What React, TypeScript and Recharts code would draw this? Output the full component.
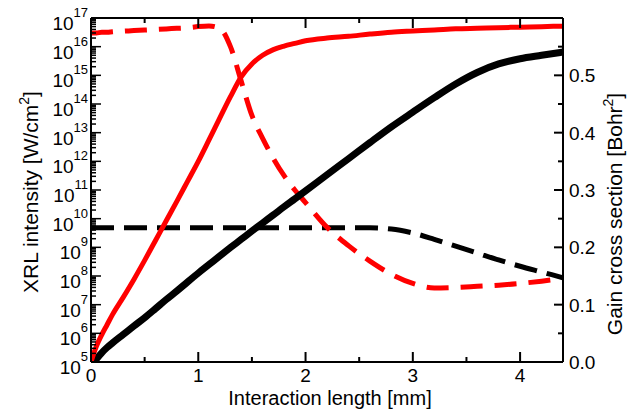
import React from 'react';
import { LineChart, Line, XAxis, YAxis, Customized } from 'recharts';

// Interaction length [mm]
const lengthMm = [0, 0.03, 0.05, 0.1, 0.15, 0.2, 0.3, 0.4, 0.5, 0.6, 0.7, 0.8, 0.9, 1.0, 1.1, 1.2, 1.3, 1.4, 1.5, 1.6, 1.7, 1.8, 1.9, 2.0, 2.2, 2.4, 2.6, 2.8, 3.0, 3.2, 3.4, 3.6, 3.8, 4.0, 4.2, 4.4];

// XRL intensity [W/cm^2] (left, log axis)
const redIntensity = [1.0e5, 2.2e5, 3.5e5, 8.9e5, 2.0e6, 4.5e6, 1.8e7, 7.6e7, 3.5e8, 1.7e9, 8.3e9, 4.0e10, 2.0e11, 1.0e12, 5.6e12, 3.2e13, 1.8e14, 8.9e14, 2.5e15, 5.0e15, 7.9e15, 1.05e16, 1.3e16, 1.6e16, 2.0e16, 2.3e16, 2.75e16, 3.2e16, 3.5e16, 3.8e16, 4.2e16, 4.4e16, 4.6e16, 4.8e16, 5.0e16, 5.2e16];
const blackIntensity = [null, 1.0e5, 1.26e5, 2.1e5, 3.2e5, 4.6e5, 9.1e5, 1.8e6, 3.5e6, 7.2e6, 1.5e7, 3.0e7, 6.2e7, 1.26e8, 2.5e8, 5.0e8, 9.8e8, 1.9e9, 3.7e9, 7.1e9, 1.35e10, 2.6e10, 4.9e10, 9.3e10, 3.4e11, 1.23e12, 4.5e12, 1.6e13, 5.2e13, 1.66e14, 5.0e14, 1.26e15, 2.5e15, 3.8e15, 5.0e15, 6.5e15];

// Gain cross section [Bohr^2] (right, linear axis)
const redGain = [0.574, 0.574, 0.574, 0.575, 0.575, 0.576, 0.577, 0.578, 0.579, 0.58, 0.581, 0.582, 0.583, 0.585, 0.586, 0.582, 0.55, 0.49, 0.43, 0.39, 0.355, 0.325, 0.3, 0.278, 0.235, 0.203, 0.176, 0.153, 0.137, 0.129, 0.13, 0.132, 0.134, 0.137, 0.141, 0.146];
const blackGain = [0.234, 0.234, 0.234, 0.234, 0.234, 0.234, 0.234, 0.234, 0.234, 0.234, 0.234, 0.234, 0.234, 0.234, 0.234, 0.234, 0.234, 0.234, 0.234, 0.234, 0.234, 0.234, 0.234, 0.234, 0.234, 0.234, 0.234, 0.232, 0.225, 0.214, 0.202, 0.19, 0.178, 0.167, 0.157, 0.147];

// Tick labels / positions
const xMajorTicks = [0, 1, 2, 3, 4];
const xMinorTicks = [0.5, 1.5, 2.5, 3.5];
const leftExponents = [5, 6, 7, 8, 9, 10, 11, 12, 13, 14, 15, 16, 17];
const logMinorMultipliers = [2, 3, 4, 5, 6, 7, 8, 9];
const rightMajorTicks = [0, 0.1, 0.2, 0.3, 0.4, 0.5];
const rightMinorTicks = [0.05, 0.15, 0.25, 0.35, 0.45, 0.55];

const data = lengthMm.map((x, i) => ({
  x,
  redI: redIntensity[i],
  blackI: blackIntensity[i],
  redG: redGain[i],
  blackG: blackGain[i],
}));

const xTicks = [...xMajorTicks, ...xMinorTicks].sort((a, b) => a - b);
const leftTicks: number[] = [];
leftExponents.forEach((e) => {
  leftTicks.push(Math.pow(10, e));
  if (e < 17) logMinorMultipliers.forEach((m) => leftTicks.push(m * Math.pow(10, e)));
});
const rightTicks = [...rightMajorTicks, ...rightMinorTicks].sort((a, b) => a - b);

const FONT = '"Liberation Sans", Arial, Helvetica, sans-serif';
const TICK_FS = 19;
const SUP_FS = 13;

const isMajorX = (v: number) => Math.abs(v - Math.round(v)) < 1e-6;

const BottomTick = (props: any) => {
  const { x, y, payload } = props;
  const v = payload.value;
  const major = isMajorX(v);
  return (
    <g>
      <line x1={x} x2={x} y1={y} y2={y - (major ? 10 : 5)} stroke="#000" strokeWidth={2} />
      {major && (
        <text x={x} y={y + 20} textAnchor="middle" fontSize={TICK_FS} fontFamily={FONT} fill="#000">
          {String(v)}
        </text>
      )}
    </g>
  );
};

const TopTick = (props: any) => {
  const { x, y, payload } = props;
  const major = isMajorX(payload.value);
  return <line x1={x} x2={x} y1={y} y2={y + (major ? 10 : 5)} stroke="#000" strokeWidth={2} />;
};

const LeftTick = (props: any) => {
  const { x, y, payload } = props;
  const v = payload.value;
  const lg = Math.log10(v);
  const e = Math.round(lg);
  const major = Math.abs(lg - e) < 1e-6;
  return (
    <g>
      <line x1={x} x2={x + (major ? 10 : 5)} y1={y} y2={y} stroke="#000" strokeWidth={1.5} />
      {major && (
        <text x={x - 3} y={y + 12} textAnchor="end" fontSize={TICK_FS} fontFamily={FONT} fill="#000">
          10
          <tspan dy={-13} fontSize={SUP_FS}>{String(e)}</tspan>
        </text>
      )}
    </g>
  );
};

const RightTick = (props: any) => {
  const { x, y, payload } = props;
  const v = payload.value;
  const major = Math.abs(v * 10 - Math.round(v * 10)) < 1e-6;
  return (
    <g>
      <line x1={x} x2={x - (major ? 9 : 5)} y1={y} y2={y} stroke="#000" strokeWidth={2} />
      {major && (
        <text x={x + 6} y={y + 7} textAnchor="start" fontSize={TICK_FS} fontFamily={FONT} fill="#000">
          {v.toFixed(1)}
        </text>
      )}
    </g>
  );
};

const Titles = () => (
  <g fontFamily={FONT} fill="#000">
    <text x={330} y={405} textAnchor="middle" fontSize={20}>
      Interaction length [mm]
    </text>
    <text transform="translate(38,192) rotate(-90)" textAnchor="middle" fontSize={21}>
      XRL intensity [W/cm
      <tspan dy={-9} fontSize={14}>2</tspan>
      <tspan dy={9}>]</tspan>
    </text>
    <text transform="translate(622,214) rotate(-90)" textAnchor="middle" fontSize={21}>
      Gain cross section [Bohr
      <tspan dy={-9} fontSize={14}>2</tspan>
      <tspan dy={9}>]</tspan>
    </text>
  </g>
);

const axisLine = { stroke: '#000', strokeWidth: 2 };

export default function App() {
  return (
    <div style={{ position: 'absolute', left: 0, top: 0, background: '#fff' }}>
      <LineChart width={630} height={412} data={data} margin={{ top: 0, right: 0, bottom: 0, left: 0 }}>
        <XAxis
          xAxisId="bottom"
          type="number"
          dataKey="x"
          domain={[0, 4.4]}
          allowDataOverflow
          ticks={xTicks}
          interval={0}
          height={50}
          tickSize={0}
          tickMargin={0}
          tickLine={false}
          axisLine={axisLine}
          tick={<BottomTick />}
        />
        <XAxis
          xAxisId="top"
          orientation="top"
          type="number"
          dataKey="x"
          domain={[0, 4.4]}
          allowDataOverflow
          ticks={xTicks}
          interval={0}
          height={18}
          tickSize={0}
          tickMargin={0}
          tickLine={false}
          axisLine={axisLine}
          tick={<TopTick />}
        />
        <YAxis
          yAxisId="left"
          scale="log"
          type="number"
          domain={[1e5, 1e17]}
          allowDataOverflow
          ticks={leftTicks}
          interval={0}
          width={91}
          tickSize={0}
          tickMargin={0}
          tickLine={false}
          axisLine={axisLine}
          tick={<LeftTick />}
        />
        <YAxis
          yAxisId="right"
          orientation="right"
          type="number"
          domain={[0, 0.6]}
          allowDataOverflow
          ticks={rightTicks}
          interval={0}
          width={67}
          tickSize={0}
          tickMargin={0}
          tickLine={false}
          axisLine={axisLine}
          tick={<RightTick />}
        />
        <Line
          xAxisId="bottom"
          yAxisId="right"
          dataKey="blackG"
          stroke="#000"
          strokeWidth={5}
          strokeDasharray="23 10"
          dot={false}
          type="monotone"
          isAnimationActive={false}
        />
        <Line
          xAxisId="bottom"
          yAxisId="right"
          dataKey="redG"
          stroke="#ff0000"
          strokeWidth={5}
          strokeDasharray="22 12"
          dot={false}
          type="monotone"
          isAnimationActive={false}
        />
        <Line
          xAxisId="bottom"
          yAxisId="left"
          dataKey="blackI"
          stroke="#000"
          strokeWidth={7}
          dot={false}
          type="monotone"
          isAnimationActive={false}
        />
        <Line
          xAxisId="bottom"
          yAxisId="left"
          dataKey="redI"
          stroke="#ff0000"
          strokeWidth={5}
          dot={false}
          type="monotone"
          isAnimationActive={false}
        />
        <Customized component={Titles} />
      </LineChart>
    </div>
  );
}
